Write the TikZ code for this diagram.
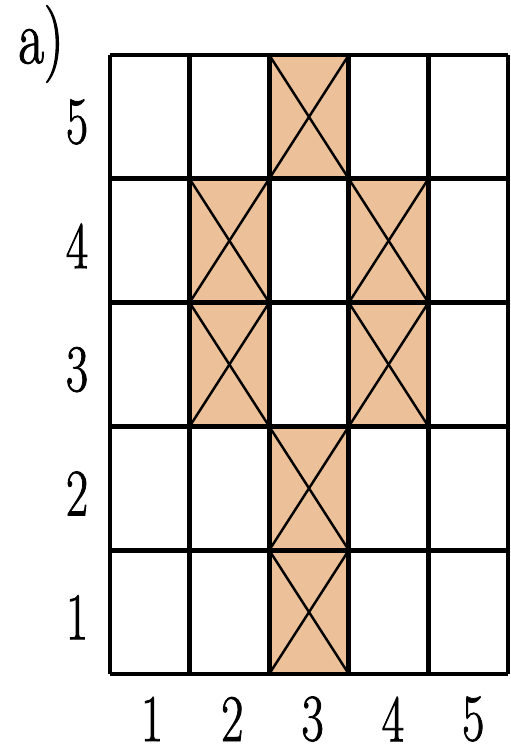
\documentclass[tikz,border=0pt]{standalone}
\usepackage{fontspec}
\usepackage{tikz}
\usetikzlibrary{positioning}
\newfontfamily\lblfont[FakeStretch=0.72, FakeBold=1.2]{Latin Modern Roman}
\definecolor{cellfill}{RGB}{236,192,152}
\tikzset{
  gridline/.style={line width=2.8pt},
  crossline/.style={line width=1.4pt},
  numlabel/.style={font=\lblfont\fontsize{38}{42}\selectfont, inner sep=0pt},
}

\begin{document}
\begin{tikzpicture}[x=0.02cm, y=-0.02cm]
  \useasboundingbox (0,0) rectangle (510,753);
  % shaded cells with crosses
  \foreach \c/\r in {3/5, 2/4, 4/4, 2/3, 4/3, 3/2, 3/1} {
    \pgfmathsetmacro{\xl}{110+79.6*(\c-1)}
    \pgfmathsetmacro{\yt}{55+123.8*(5-\r)}
    \fill[cellfill] (\xl,\yt) rectangle ++(82,123.8);
    \draw[crossline] (\xl,\yt) -- ++(79.6,123.8);
    \draw[crossline] ({\xl+79.6},\yt) -- ++(-79.6,123.8);
  }
  % grid
  \foreach \i in {0,...,5} {
    \draw[gridline] ({110+79.6*\i},55) -- ({110+79.6*\i},674);
    \draw[gridline] (110,{55+123.8*\i}) -- (508,{55+123.8*\i});
  }
  % labels
  \node[numlabel, font=\lblfont\fontsize{44}{48}\selectfont] (tag) at (41,44) {a)};
  \foreach \r in {1,...,5}
    \node[numlabel] (row\r) at (77,{122+123.8*(5-\r)}) {\r};
  \foreach \c in {1,...,5}
    \node[numlabel] (col\c) at ({152+80.3*(\c-1)},719) {\c};
\end{tikzpicture}
\end{document}
